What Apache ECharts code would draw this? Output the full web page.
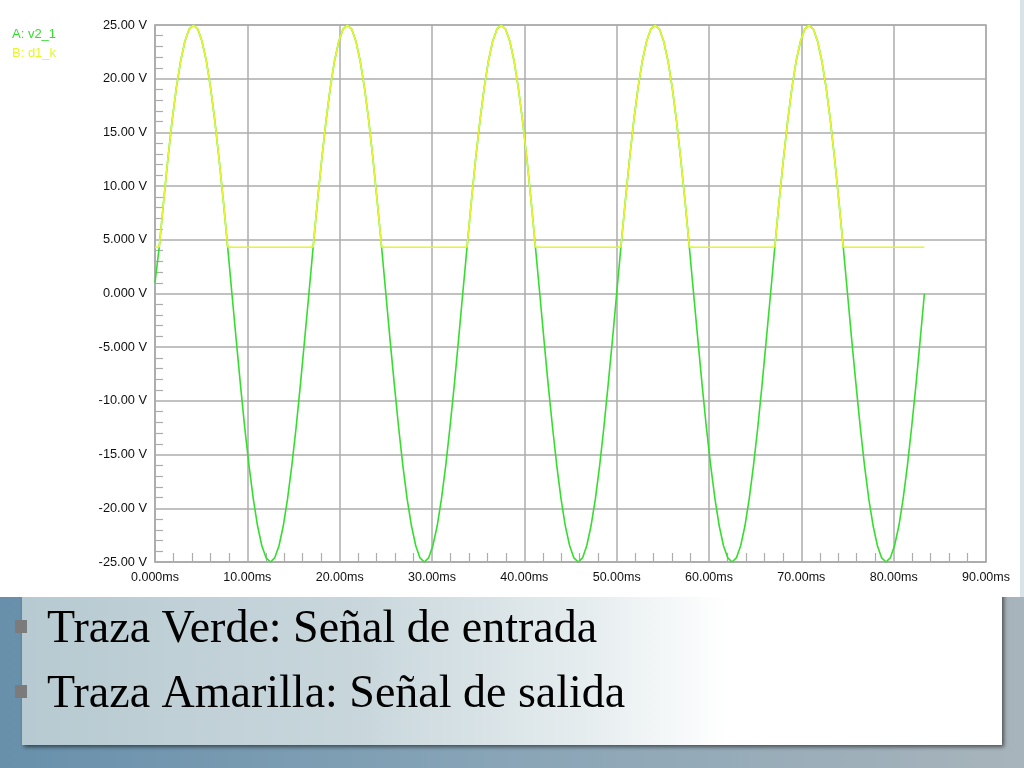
<!DOCTYPE html>
<html><head><meta charset="utf-8">
<script src="https://cdn.jsdelivr.net/npm/echarts@6/dist/echarts.min.js"></script>
<style>html,body{margin:0;padding:0;background:#fff;overflow:hidden}#c{width:1024px;height:768px}</style>
</head><body><div id="c"></div><script>
// time samples (ms)
const timeMs = [
 0.00,0.46,0.93,1.39,1.85,2.31,2.78,3.24,3.70,4.17,4.63,5.09,5.56,6.02,6.48,6.94,7.41,7.87,8.33,8.80,9.26,9.72,10.19,10.65,11.11,11.57,12.04,12.50,12.96,13.43,13.89,14.35,14.81,15.28,15.74,16.20,
 16.67,17.13,17.59,18.06,18.52,18.98,19.44,19.91,20.37,20.83,21.30,21.76,22.22,22.69,23.15,23.61,24.07,24.54,25.00,25.46,25.93,26.39,26.85,27.31,27.78,28.24,28.70,29.17,29.63,30.09,30.56,31.02,31.48,31.94,32.41,32.87,
 33.33,33.80,34.26,34.72,35.19,35.65,36.11,36.57,37.04,37.50,37.96,38.43,38.89,39.35,39.81,40.28,40.74,41.20,41.67,42.13,42.59,43.06,43.52,43.98,44.44,44.91,45.37,45.83,46.30,46.76,47.22,47.69,48.15,48.61,49.07,49.54,
 50.00,50.46,50.93,51.39,51.85,52.31,52.78,53.24,53.70,54.17,54.63,55.09,55.56,56.02,56.48,56.94,57.41,57.87,58.33,58.80,59.26,59.72,60.19,60.65,61.11,61.57,62.04,62.50,62.96,63.43,63.89,64.35,64.81,65.28,65.74,66.20,
 66.67,67.13,67.59,68.06,68.52,68.98,69.44,69.91,70.37,70.83,71.30,71.76,72.22,72.69,73.15,73.61,74.07,74.54,75.00,75.46,75.93,76.39,76.85,77.31,77.78,78.24,78.70,79.17,79.63,80.09,80.56,81.02,81.48,81.94,82.41,82.87,
 83.33
];
// A: v2_1 (input, green), volts
const vIn = [
 1.0,4.34,8.55,12.5,16.07,19.15,21.65,23.49,24.62,25,24.62,23.49,21.65,19.15,16.07,12.5,8.55,4.34,0,-4.34,-8.55,-12.5,-16.07,-19.15,-21.65,-23.49,-24.62,-25,-24.62,-23.49,-21.65,-19.15,-16.07,-12.5,-8.55,-4.34,
 0,4.34,8.55,12.5,16.07,19.15,21.65,23.49,24.62,25,24.62,23.49,21.65,19.15,16.07,12.5,8.55,4.34,0,-4.34,-8.55,-12.5,-16.07,-19.15,-21.65,-23.49,-24.62,-25,-24.62,-23.49,-21.65,-19.15,-16.07,-12.5,-8.55,-4.34,
 0,4.34,8.55,12.5,16.07,19.15,21.65,23.49,24.62,25,24.62,23.49,21.65,19.15,16.07,12.5,8.55,4.34,0,-4.34,-8.55,-12.5,-16.07,-19.15,-21.65,-23.49,-24.62,-25,-24.62,-23.49,-21.65,-19.15,-16.07,-12.5,-8.55,-4.34,
 0,4.34,8.55,12.5,16.07,19.15,21.65,23.49,24.62,25,24.62,23.49,21.65,19.15,16.07,12.5,8.55,4.34,0,-4.34,-8.55,-12.5,-16.07,-19.15,-21.65,-23.49,-24.62,-25,-24.62,-23.49,-21.65,-19.15,-16.07,-12.5,-8.55,-4.34,
 0,4.34,8.55,12.5,16.07,19.15,21.65,23.49,24.62,25,24.62,23.49,21.65,19.15,16.07,12.5,8.55,4.34,0,-4.34,-8.55,-12.5,-16.07,-19.15,-21.65,-23.49,-24.62,-25,-24.62,-23.49,-21.65,-19.15,-16.07,-12.5,-8.55,-4.34,
 0
];
// B: d1_k (output, yellow), volts
const vOut = [
 4.3,4.34,8.55,12.5,16.07,19.15,21.65,23.49,24.62,25,24.62,23.49,21.65,19.15,16.07,12.5,8.55,4.34,4.3,4.3,4.3,4.3,4.3,4.3,4.3,4.3,4.3,4.3,4.3,4.3,4.3,4.3,4.3,4.3,4.3,4.3,
 4.3,4.34,8.55,12.5,16.07,19.15,21.65,23.49,24.62,25,24.62,23.49,21.65,19.15,16.07,12.5,8.55,4.34,4.3,4.3,4.3,4.3,4.3,4.3,4.3,4.3,4.3,4.3,4.3,4.3,4.3,4.3,4.3,4.3,4.3,4.3,
 4.3,4.34,8.55,12.5,16.07,19.15,21.65,23.49,24.62,25,24.62,23.49,21.65,19.15,16.07,12.5,8.55,4.34,4.3,4.3,4.3,4.3,4.3,4.3,4.3,4.3,4.3,4.3,4.3,4.3,4.3,4.3,4.3,4.3,4.3,4.3,
 4.3,4.34,8.55,12.5,16.07,19.15,21.65,23.49,24.62,25,24.62,23.49,21.65,19.15,16.07,12.5,8.55,4.34,4.3,4.3,4.3,4.3,4.3,4.3,4.3,4.3,4.3,4.3,4.3,4.3,4.3,4.3,4.3,4.3,4.3,4.3,
 4.3,4.34,8.55,12.5,16.07,19.15,21.65,23.49,24.62,25,24.62,23.49,21.65,19.15,16.07,12.5,8.55,4.34,4.3,4.3,4.3,4.3,4.3,4.3,4.3,4.3,4.3,4.3,4.3,4.3,4.3,4.3,4.3,4.3,4.3,4.3,
 4.3
];
const seriesNames = ['A: v2_1', 'B: d1_k'];
const xTickValues = [0,10,20,30,40,50,60,70,80,90];
const xTickLabels = ['0.000ms','10.00ms','20.00ms','30.00ms','40.00ms','50.00ms','60.00ms','70.00ms','80.00ms','90.00ms'];
const yTickValues = [-25,-20,-15,-10,-5,0,5,10,15,20,25];
const yTickLabels = ['-25.00 V','-20.00 V','-15.00 V','-10.00 V','-5.000 V','0.000 V','5.000 V','10.00 V','15.00 V','20.00 V','25.00 V'];
const bulletTexts = ['Traza Verde: Señal de entrada', 'Traza Amarilla: Señal de salida'];

const GREEN = '#36dd2e';
const YELLOW = '#e6f52c';
const GRIDC = '#acacac';

function lookup(vals, labels, v) {
  for (let i = 0; i < vals.length; i++) if (Math.abs(vals[i] - v) < 1e-6) return labels[i];
  return '';
}

const chart = echarts.init(document.getElementById('c'), null, {renderer: 'canvas'});
const option = {
  backgroundColor: 'transparent',
  animation: false,
  graphic: [
    {type: 'rect', z: -20, silent: true, shape: {x: 0, y: 0, width: 1024, height: 768},
     style: {fill: new echarts.graphic.LinearGradient(0, 0, 1, 0, [
       {offset: 0, color: '#6890ab'}, {offset: 0.45, color: '#86a3b6'}, {offset: 1, color: '#a8b4bb'}])}},
    {type: 'rect', z: -19, silent: true, shape: {x: 1018, y: 0, width: 6, height: 597},
     style: {fill: '#d9e3e7'}},
    {type: 'rect', z: -18, silent: true, shape: {x: 22, y: 590, width: 980, height: 155},
     style: {fill: new echarts.graphic.LinearGradient(0, 0, 1, 0, [
       {offset: 0, color: '#b7cad1'}, {offset: 0.35, color: '#c9d7dc'}, {offset: 0.58, color: '#e6edef'},
       {offset: 0.72, color: '#ffffff'}, {offset: 1, color: '#ffffff'}]),
       shadowBlur: 4, shadowOffsetX: 2, shadowOffsetY: 2, shadowColor: 'rgba(0,0,0,0.55)'}},
    {type: 'rect', z: -17, silent: true, shape: {x: 0, y: 0, width: 1020, height: 597},
     style: {fill: '#ffffff'}},
    {type: 'rect', z: 5, silent: true, shape: {x: 15, y: 620, width: 12, height: 13}, style: {fill: '#7b7b7b'}},
    {type: 'rect', z: 5, silent: true, shape: {x: 15, y: 685, width: 12, height: 13}, style: {fill: '#7b7b7b'}},
    {type: 'text', z: 5, silent: true, x: 47, y: 630,
     style: {text: bulletTexts[0], font: '46px "Liberation Serif", "Times New Roman", serif', fill: '#000', verticalAlign: 'middle'}},
    {type: 'text', z: 5, silent: true, x: 47, y: 695,
     style: {text: bulletTexts[1], font: '46px "Liberation Serif", "Times New Roman", serif', fill: '#000', verticalAlign: 'middle'}}
  ],
  legend: {
    orient: 'vertical', left: 2, top: 23, itemWidth: 0, itemHeight: 10, itemGap: 6, icon: 'none',
    selectedMode: false,
    textStyle: {fontFamily: '"Liberation Sans", Arial, sans-serif', fontSize: 13},
    data: [
      {name: seriesNames[0], icon: 'none', textStyle: {color: GREEN}},
      {name: seriesNames[1], icon: 'none', textStyle: {color: YELLOW}}
    ]
  },
  grid: {left: 155, right: 38, top: 25, bottom: 206, show: true, borderColor: GRIDC, borderWidth: 1.5, backgroundColor: 'transparent'},
  xAxis: {
    type: 'value', min: 0, max: 90, interval: 10,
    axisLine: {show: true, onZero: false, lineStyle: {color: GRIDC, width: 1.5}},
    axisTick: {show: false, inside: true},
    minorTick: {show: true, splitNumber: 5, length: 9, lineStyle: {color: GRIDC, width: 1.2}},
    splitLine: {show: true, lineStyle: {color: GRIDC, width: 1.5}},
    axisLabel: {show: true, margin: 9, color: '#111', fontSize: 12.5, fontFamily: '"Liberation Sans", Arial, sans-serif',
      showMinLabel: true, showMaxLabel: true,
      formatter: v => lookup(xTickValues, xTickLabels, v)}
  },
  yAxis: {
    type: 'value', min: -25, max: 25, interval: 5,
    axisLine: {show: true, onZero: false, lineStyle: {color: GRIDC, width: 1.5}},
    axisTick: {show: false, inside: true},
    minorTick: {show: true, splitNumber: 5, length: 8, lineStyle: {color: GRIDC, width: 1.2}},
    splitLine: {show: true, lineStyle: {color: GRIDC, width: 1.5}},
    axisLabel: {show: true, margin: 8, color: '#111', fontSize: 12.8, fontFamily: '"Liberation Sans", Arial, sans-serif',
      showMinLabel: true, showMaxLabel: true,
      formatter: v => lookup(yTickValues, yTickLabels, v)}
  },
  series: [
    {name: seriesNames[0], type: 'line', showSymbol: false, symbol: 'none', z: 3,
     lineStyle: {color: GREEN, width: 1.6}, itemStyle: {color: GREEN},
     data: timeMs.map((t, i) => [t, vIn[i]])},
    {name: seriesNames[1], type: 'line', showSymbol: false, symbol: 'none', z: 4,
     lineStyle: {color: YELLOW, width: 1.6}, itemStyle: {color: YELLOW},
     data: timeMs.map((t, i) => [t, vOut[i]])}
  ]
};
chart.setOption(option);
</script></body></html>
